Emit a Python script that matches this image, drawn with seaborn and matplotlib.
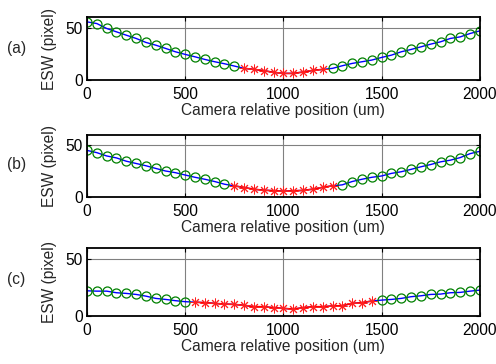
import matplotlib
matplotlib.use("Agg")
import numpy as np
import pandas as pd
import matplotlib.pyplot as plt
import seaborn as sns

sns.set_theme(style="white")
plt.rcParams["font.family"] = ["Liberation Sans", "DejaVu Sans"]

# -------- data --------
positions = [0, 50, 100, 150, 200, 250, 300, 350, 400, 450, 500, 550, 600, 650,
             700, 750, 800, 850, 900, 950, 1000, 1050, 1100, 1150, 1200, 1250,
             1300, 1350, 1400, 1450, 1500, 1550, 1600, 1650, 1700, 1750, 1800,
             1850, 1900, 1950, 2000]

esw_a = [55.4, 53.8, 49.1, 45.9, 42.7, 39.6, 35.8, 33.2, 30.1, 26.9, 24.4,
         22.1, 19.6, 17.4, 15.5, 13.3, 11.1, 10.1, 8.9, 7.3, 6.3, 6.3, 7.6,
         9.2, 10.1, 11.1, 13.6, 15.8, 17.4, 19.0, 21.5, 23.7, 26.9, 29.1,
         31.6, 34.2, 36.4, 39.6, 41.1, 44.3, 46.8]
esw_b = [45.2, 43.0, 39.8, 37.9, 34.7, 32.5, 30.3, 27.7, 25.2, 23.6, 21.3,
         19.1, 17.2, 15.0, 12.4, 10.8, 9.2, 7.5, 6.6, 6.1, 5.6, 6.0, 6.4,
         7.6, 9.4, 10.8, 11.8, 15.0, 17.2, 19.1, 20.4, 22.9, 24.5, 26.8,
         29.3, 31.5, 34.1, 35.7, 38.2, 42.0, 44.3]
esw_c = [22.2, 21.9, 21.9, 20.5, 19.9, 19.0, 17.5, 15.5, 14.6, 13.5, 12.6,
         12.2, 11.7, 11.1, 10.5, 10.2, 9.4, 8.2, 8.2, 7.3, 6.7, 6.1, 7.3,
         8.2, 8.2, 8.8, 9.1, 11.1, 11.7, 13.2, 14.0, 14.6, 15.5, 17.0, 17.8,
         19.0, 19.3, 20.5, 20.8, 21.9, 22.8]

# red (in-focus) range per panel, um
red_ranges = [(800, 1200), (750, 1250), (550, 1450)]
panel_labels = ["(a)", "(b)", "(c)"]
xticks = [0, 500, 1000, 1500, 2000]
yticks = [0, 50]

FS = 11.2

# -------- layout --------
fig = plt.figure(figsize=(4.96, 3.64), dpi=100)
boxes = [
    [0.1754, 0.7802, 0.792, 0.173],
    [0.1754, 0.4588, 0.792, 0.170],
    [0.1754, 0.1319, 0.792, 0.187],
]
label_y = [0.868, 0.547, 0.232]

for box, esw, (lo, hi), lab, ly in zip(boxes, [esw_a, esw_b, esw_c],
                                       red_ranges, panel_labels, label_y):
    ax = fig.add_axes(box)
    df = pd.DataFrame({"pos": positions, "esw": esw})
    is_red = (df["pos"] >= lo) & (df["pos"] <= hi)

    ax.grid(True, color="#808080", lw=0.8)
    ax.set_axisbelow(True)

    sns.lineplot(data=df, x="pos", y="esw", color="blue", lw=1, ax=ax)
    sns.lineplot(data=df[is_red], x="pos", y="esw", color="red", lw=1.2, ax=ax)
    sns.lineplot(data=df[~is_red], x="pos", y="esw", linestyle="none",
                 marker="o", markersize=6.5, markerfacecolor="none",
                 markeredgecolor="#008000", markeredgewidth=0.9, ax=ax)
    sns.lineplot(data=df[is_red], x="pos", y="esw", linestyle="none",
                 marker=(8, 2, 0), markersize=7, markeredgecolor="#ff2020",
                 markeredgewidth=0.7, color="red", ax=ax)

    ax.set_xlim(0, 2000)
    ax.set_ylim(0, 60)
    ax.set_xticks(xticks)
    ax.set_yticks(yticks)
    ax.tick_params(direction="in", length=3, width=0.8, top=True, right=True,
                   bottom=True, left=True, labelsize=FS, colors="black")
    ax.tick_params(axis="x", pad=5)
    ax.tick_params(axis="y", pad=3)
    for sp in ax.spines.values():
        sp.set_color("black")
        sp.set_linewidth(1.3)
    ax.set_xlabel("Camera relative position (um)", fontsize=FS, labelpad=1)
    ax.set_ylabel("ESW (pixel)", fontsize=FS, labelpad=6)
    fig.text(0.014, ly, lab, fontsize=FS, va="center", ha="left")

fig.savefig("out.png", dpi=100)
